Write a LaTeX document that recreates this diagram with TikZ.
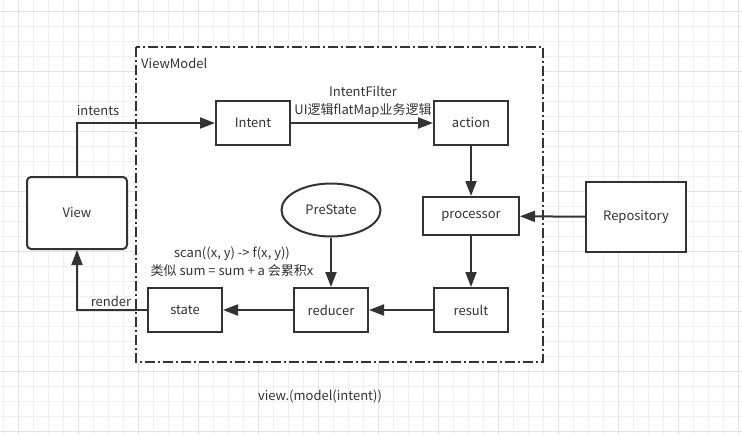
\documentclass[tikz,border=0pt]{standalone}
\usepackage{fontspec}
\setmainfont{Noto Sans CJK SC}
\usetikzlibrary{arrows.meta,shapes.geometric}
\definecolor{ink}{HTML}{333333}
\definecolor{gridminor}{HTML}{F0F0F0}
\definecolor{gridmajor}{HTML}{E3E3E3}
\tikzset{
  box/.style={draw=ink, line width=2pt, fill=white, text=ink, minimum width=74pt, minimum height=44pt, inner sep=0pt},
  flow/.style={draw=ink, line width=2pt, -{Triangle[length=15pt,width=11pt]}},
  lbl/.style={text=ink, inner sep=0pt, align=center},
}
\begin{document}
\begin{tikzpicture}[x=1pt,y=-1pt,font=\fontsize{13}{18}\selectfont]
\useasboundingbox (0,0) rectangle (742,434);
\fill[white] (0,0) rectangle (742,434);
\foreach \x in {3,18,...,742} \draw[gridminor, line width=0.8pt] (\x,0) -- (\x,434);
\foreach \y in {11.7,26.7,...,434} \draw[gridminor, line width=0.8pt] (0,\y) -- (742,\y);
\foreach \x in {18,78,...,742} \draw[gridmajor, line width=0.8pt] (\x,0) -- (\x,434);
\foreach \y in {11.7,71.7,...,434} \draw[gridmajor, line width=0.8pt] (0,\y) -- (742,\y);

\draw[draw=ink, fill=white, line width=2pt, dash pattern=on 10pt off 3pt on 2pt off 3pt] (136,47) rectangle (543,362);
\node[lbl, anchor=west] (vmlbl) at (141,63) {ViewModel};

\node[box, rounded corners=4pt, minimum width=100pt, minimum height=72pt] (view) at (77,213) {View};
\node[box] (intent) at (253,123) {Intent};
\node[box] (action) at (471,123) {action};
\node[box, minimum width=96pt, minimum height=38pt] (processor) at (471,216) {processor};
\node[box, minimum width=100pt, minimum height=70pt] (repo) at (636,217) {Repository};
\node[box] (result) at (471,310) {result};
\node[box] (reducer) at (331,310) {reducer};
\node[box] (state) at (185,310) {state};
\node[box, ellipse, minimum width=99pt, minimum height=53pt] (prestate) at (331,210) {PreState};

\draw[flow] (view.north) |- (intent.west);
\draw[flow] (intent) -- (action);
\draw[flow] (action) -- (processor);
\draw[flow] (processor) -- (result);
\draw[flow] (repo) -- (processor);
\draw[flow] (result) -- (reducer);
\draw[flow] (reducer) -- (state);
\draw[flow] (prestate) -- (reducer);
\draw[flow] (state.west) -| (view.south);

\node[lbl] (intentslbl) at (98,111) {intents};
\node[lbl] (renderlbl) at (111,301) {render};
\node[lbl] (filterlbl) at (363,102) {IntentFilter\\UI逻辑flatMap业务逻辑};
\node[lbl] (scanlbl) at (232,262) {scan((x, y) -> f(x, y))\\类似 sum = sum + a 会累积x};
\node[lbl] (mvilbl) at (320,396) {view.(model(intent))};
\end{tikzpicture}
\end{document}
